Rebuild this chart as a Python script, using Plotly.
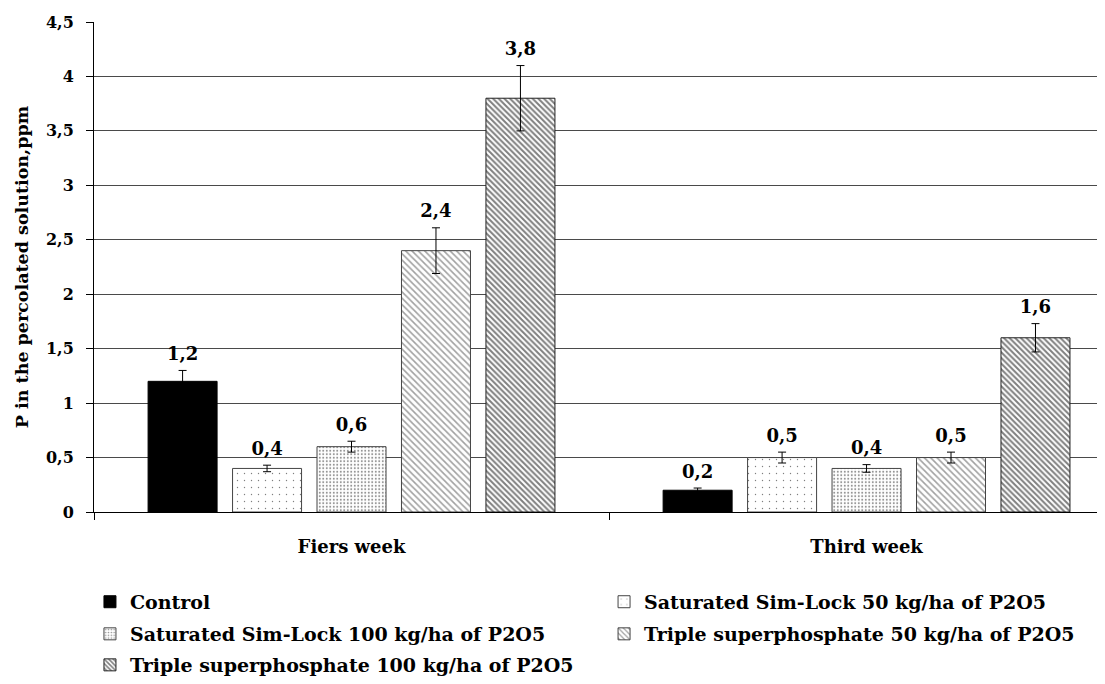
import plotly.graph_objects as go

categories = ["Fiers week", "Third week"]
series_names = [
    "Control",
    "Saturated Sim-Lock 50 kg/ha of P2O5",
    "Saturated Sim-Lock 100 kg/ha of P2O5",
    "Triple superphosphate 50 kg/ha of P2O5",
    "Triple superphosphate 100 kg/ha of P2O5",
]
control = [1.2, 0.2]
sl50 = [0.4, 0.5]
sl100 = [0.6, 0.4]
tsp50 = [2.4, 0.5]
tsp100 = [3.8, 1.6]
control_err = [0.1, 0.02]
sl50_err = [0.03, 0.05]
sl100_err = [0.05, 0.035]
tsp50_err = [0.21, 0.05]
tsp100_err = [0.3, 0.13]

values = [control, sl50, sl100, tsp50, tsp100]
errors = [control_err, sl50_err, sl100_err, tsp50_err, tsp100_err]

FONT = "DejaVu Serif"
styles = [
    dict(color="black", line=dict(color="black", width=1)),
    dict(color="white", line=dict(color="#444", width=1),
         pattern=dict(shape=".", fgcolor="black", bgcolor="white", size=7, solidity=0.03, fillmode="overlay")),
    dict(color="white", line=dict(color="#444", width=1),
         pattern=dict(shape=".", fgcolor="#222", bgcolor="white", size=3.5, solidity=0.25, fillmode="overlay")),
    dict(color="white", line=dict(color="#444", width=1),
         pattern=dict(shape="\\", fgcolor="#444", bgcolor="white", size=4.5, solidity=0.35, fillmode="overlay")),
    dict(color="white", line=dict(color="#222", width=1),
         pattern=dict(shape="\\", fgcolor="black", bgcolor="white", size=4, solidity=0.5, fillmode="overlay")),
]
# one legend box per entry: (left column / right column) x (row)
legend_ids = ["legend", "legend2", "legend3", "legend4", "legend5"]
legend_xy = [(-0.004, -0.1423), (0.5045, -0.1423),
             (-0.004, -0.2077), (0.5045, -0.2077),
             (-0.004, -0.2729)]

fig = go.Figure()
for name, v, e, st, lg in zip(series_names, values, errors, styles, legend_ids):
    fig.add_trace(go.Bar(
        x=categories, y=v, name=name, marker=st, legend=lg,
        error_y=dict(type="data", array=e, visible=True, color="black", thickness=1, width=4),
    ))
for name, v, e in zip(series_names, values, errors):
    fig.add_trace(go.Scatter(
        x=categories, y=[a + b for a, b in zip(v, e)], mode="markers+text",
        marker=dict(size=8, opacity=0, color="white"),
        text=[str(a).replace(".", ",") for a in v], textposition="top center",
        textfont=dict(family=FONT, size=18, color="black", weight="bold"),
        showlegend=False, hoverinfo="skip",
    ))

leg_common = dict(orientation="h", xanchor="left", yanchor="top", itemwidth=30,
                  font=dict(family=FONT, size=19, color="black", weight="bold"),
                  bgcolor="rgba(0,0,0,0)")
legend_layout = {lg: dict(leg_common, x=xy[0], y=xy[1]) for lg, xy in zip(legend_ids, legend_xy)}

fig.update_layout(
    width=1097, height=676,
    margin=dict(l=86, r=0, t=14, b=171),
    paper_bgcolor="white", plot_bgcolor="white",
    barmode="group", bargap=0.18, bargroupgap=0.183,
    scattermode="group", scattergap=0.18,
    separators=",.",
    showlegend=True,
    xaxis=dict(type="category", range=[-0.5, 1.463], tickson="boundaries",
               ticks="outside", ticklen=7, tickcolor="black", showline=True,
               linecolor="black", linewidth=1, showgrid=False, automargin=False,
               ticklabelstandoff=18,
               tickfont=dict(family=FONT, size=18, color="black", weight="bold")),
    yaxis=dict(range=[0, 4.5], dtick=0.5, tick0=0, ticks="outside", ticklen=7,
               tickcolor="black", showline=True, linecolor="black", linewidth=1,
               showgrid=True, gridcolor="#4a4a4a", gridwidth=1, zeroline=False,
               ticklabelstandoff=9, automargin=False,
               tickfont=dict(family=FONT, size=16, color="black", weight="bold"),
               title=dict(text="P in the percolated solution,ppm", standoff=12,
                          font=dict(family=FONT, size=17.5, color="black", weight="bold"))),
    **legend_layout,
)
fig.write_html("out.html")
